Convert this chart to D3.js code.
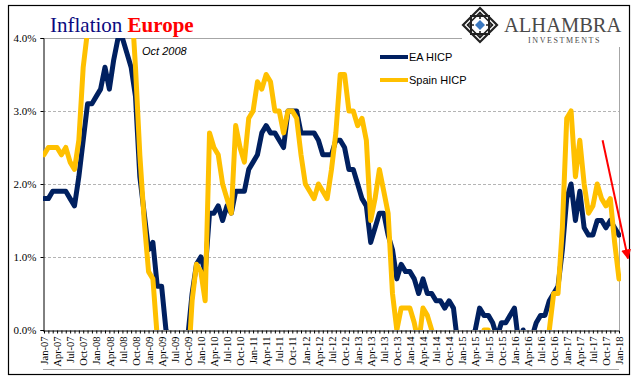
<!DOCTYPE html>
<html><head><meta charset="utf-8">
<script src="https://cdn.jsdelivr.net/npm/d3@7"></script>
<style>body{margin:0;background:#fff}svg{display:block}</style>
</head><body>
<svg id="c" width="641" height="381"></svg>
<script>
const years = ["07","08","09","10","11","12","13","14","15","16","17","18"];
const monthNames = ["Jan","Feb","Mar","Apr","May","Jun","Jul","Aug","Sep","Oct","Nov","Dec"];
const eaHICP = [
 1.8,1.8,1.9,1.9,1.9,1.9,1.8,1.7,2.1,2.6,3.1,3.1,
 3.2,3.3,3.6,3.3,3.7,4.0,4.0,3.8,3.6,3.2,2.1,1.6,
 1.1,1.2,0.6,0.6,0.0,-0.1,-0.6,-0.2,-0.3,-0.1,0.5,0.9,
 1.0,0.8,1.6,1.6,1.7,1.5,1.7,1.6,1.9,1.9,1.9,2.2,
 2.3,2.4,2.7,2.8,2.7,2.7,2.6,2.5,3.0,3.0,3.0,2.7,
 2.7,2.7,2.7,2.6,2.4,2.4,2.4,2.6,2.6,2.5,2.2,2.2,
 2.0,1.8,1.7,1.2,1.4,1.6,1.6,1.3,1.1,0.7,0.9,0.8,
 0.8,0.7,0.5,0.7,0.5,0.5,0.4,0.4,0.3,0.4,0.3,-0.2,
 -0.6,-0.3,-0.1,0.0,0.3,0.2,0.2,0.1,-0.1,0.1,0.1,0.2,
 0.3,-0.2,0.0,-0.2,-0.1,0.1,0.2,0.2,0.4,0.5,0.6,1.1,
 1.8,2.0,1.5,1.9,1.4,1.3,1.3,1.5,1.5,1.4,1.5,1.4,
 1.3];
const spainHICP = [
 2.4,2.5,2.5,2.5,2.4,2.5,2.3,2.2,2.6,3.6,4.1,4.3,
 4.4,4.4,4.6,4.2,4.7,5.1,5.3,4.9,4.6,3.6,2.4,1.5,
 0.8,0.7,-0.1,-0.2,-0.9,-1.0,-1.4,-0.8,-1.0,-0.6,0.4,0.9,
 0.8,0.4,2.7,2.5,2.4,2.0,1.8,1.6,2.8,2.5,2.3,2.9,
 3.0,3.4,3.3,3.5,3.4,3.0,3.0,2.7,3.0,3.0,2.9,2.4,
 2.0,1.9,1.8,2.0,1.9,1.8,2.2,2.7,3.5,3.5,3.0,3.0,
 2.8,2.9,2.6,1.5,1.8,2.2,1.9,1.6,0.5,0.0,0.3,0.3,
 0.3,0.1,-0.2,0.3,0.2,0.0,-0.4,-0.5,-0.3,-0.2,-0.5,-1.1,
 -1.5,-1.2,-0.8,-0.7,-0.3,0.0,0.0,-0.5,-1.1,-0.9,-0.4,-0.1,
 -0.4,-1.0,-1.0,-1.2,-1.1,-0.9,-0.7,-0.3,0.0,0.5,0.5,1.4,
 2.9,3.0,2.1,2.6,2.0,1.6,1.7,2.0,1.8,1.7,1.8,1.2,
 0.7];
const yTicks = [0,1,2,3,4];
const seriesNames = ["EA HICP","Spain HICP"];
const colors = ["#002060","#ffc000"];

const categories = [];
years.forEach(y => monthNames.forEach(m => categories.push(m + "-" + y)));
categories.length = eaHICP.length;
const tickLabels = categories.filter((c,i) => i % 3 === 0);

const svg = d3.select("#c");
const L = 43, R = 619, T = 38, B = 330;
const x = d3.scalePoint().domain(categories).range([L + 1, R]);
const y = d3.scaleLinear().domain([0, 4]).range([B, T]);

// outer border
svg.append("rect").attr("x", 8.5).attr("y", 5.5).attr("width", 621).attr("height", 369)
  .attr("fill", "none").attr("stroke", "#000").attr("stroke-width", 1.2);

// gridlines
svg.append("g").selectAll("line").data(yTicks.filter(d => d > 0 && d < 4)).join("line")
  .attr("x1", L).attr("x2", R).attr("y1", d => Math.round(y(d)) + 0.5).attr("y2", d => Math.round(y(d)) + 0.5)
  .attr("stroke", "#b4b4b4").attr("stroke-dasharray", "3,2");
svg.append("line").attr("x1", L).attr("x2", 462).attr("y1", Math.round(y(4)) + 0.5).attr("y2", Math.round(y(4)) + 0.5)
  .attr("stroke", "#a6a6a6");
svg.append("line").attr("x1", R + 0.5).attr("x2", R + 0.5).attr("y1", 47).attr("y2", B)
  .attr("stroke", "#a6a6a6");
svg.append("line").attr("x1", L).attr("x2", R).attr("y1", 369.5).attr("y2", 369.5)
  .attr("stroke", "#a6a6a6");

// y axis
const yAxis = d3.axisLeft(y).tickValues(yTicks).tickSize(3).tickFormat(d => d3.format(".1f")(d) + "%");
const gy = svg.append("g").attr("transform", `translate(${L + 0.5},0)`).call(yAxis);
gy.select(".domain").attr("stroke", "#000");
gy.selectAll("text").attr("font-family", "Liberation Serif").attr("font-size", 11).attr("fill", "#000")
  .attr("x", -7);

// x axis
const xAxis = d3.axisBottom(x).tickSize(3).tickFormat(d => tickLabels.includes(d) ? d : "");
const gx = svg.append("g").attr("transform", `translate(0,${B + 0.5})`).call(xAxis);
gx.select(".domain").attr("stroke", "#000").attr("d", `M${L},0.5H${R}`);
gx.selectAll(".tick line").attr("stroke", "#000");
gx.selectAll("text").attr("font-family", "Liberation Serif").attr("font-size", 10.5).attr("fill", "#000")
  .attr("transform", "rotate(-90)").attr("text-anchor", "end").attr("x", -6).attr("y", 0).attr("dy", "0.35em");

// clip
svg.append("clipPath").attr("id", "clip").append("rect")
  .attr("x", L).attr("y", T).attr("width", R - L + 2).attr("height", B - T);

const line = d3.line().x((d, i) => x(categories[i])).y(d => y(d));
const plot = svg.append("g").attr("clip-path", "url(#clip)");
[eaHICP, spainHICP].forEach((s, k) => {
  plot.append("path").datum(s).attr("d", line).attr("fill", "none")
    .attr("stroke", colors[k]).attr("stroke-width", 5)
    .attr("stroke-linejoin", "round").attr("stroke-linecap", "round");
});

// legend
seriesNames.forEach((n, k) => {
  const ly = 57 + k * 23;
  svg.append("line").attr("x1", 380).attr("x2", 408).attr("y1", ly).attr("y2", ly)
    .attr("stroke", colors[k]).attr("stroke-width", 4);
  svg.append("text").attr("x", 409).attr("y", ly + 4).text(n)
    .attr("font-family", "Liberation Sans").attr("font-size", 11).attr("fill", "#000");
});

// title
const title = svg.append("text").attr("x", 50).attr("y", 32).attr("font-family", "Liberation Serif").attr("font-size", 21);
title.append("tspan").text("Inflation ").attr("fill", "#0a0a80");
title.append("tspan").text("Europe").attr("fill", "#ff0000").attr("font-weight", "bold");

// annotation
svg.append("text").attr("x", 142).attr("y", 55).text("Oct 2008")
  .attr("font-family", "Liberation Sans").attr("font-style", "italic").attr("font-size", 11).attr("fill", "#000");

// arrow
svg.append("defs").append("marker").attr("id", "ah").attr("viewBox", "0 0 10 10").attr("refX", 9).attr("refY", 5)
  .attr("markerWidth", 5).attr("markerHeight", 5).attr("orient", "auto")
  .append("path").attr("d", "M0,0L10,5L0,10z").attr("fill", "#ff0000");
svg.append("line").attr("x1", x(categories[128]) + 1).attr("y1", y(2.6))
  .attr("x2", x(categories[132]) + 9).attr("y2", y(0.98))
  .attr("stroke", "#ff0000").attr("stroke-width", 2).attr("marker-end", "url(#ah)");

// logo
const lg = svg.append("g").attr("transform", "translate(480,25)");
const r = 17;
lg.append("path").attr("d", `M0,${-r}L${r},0L0,${r}L${-r},0Z`).attr("fill", "none").attr("stroke", "#222").attr("stroke-width", 2.2);
const s = 9;
lg.append("rect").attr("x", -s).attr("y", -s).attr("width", 2 * s).attr("height", 2 * s)
  .attr("fill", "none").attr("stroke", "#222").attr("stroke-width", 2);
lg.append("path").attr("d", `M0,${-12.5}L12.5,0L0,12.5L-12.5,0Z`).attr("fill", "none").attr("stroke", "#222").attr("stroke-width", 1.6);
lg.append("path").attr("d", `M0,-13L0,-6M13,0L6,0M0,13L0,6M-13,0L-6,0`).attr("stroke", "#222").attr("stroke-width", 1.6);
lg.append("path").attr("d", `M0,-5L5,0L0,5L-5,0Z`).attr("fill", "#3a78c0");
svg.append("text").attr("x", 504).attr("y", 32).text("ALHAMBRA")
  .attr("font-family", "Liberation Serif").attr("font-size", 20.5).attr("fill", "#4a4a4a");
svg.append("text").attr("x", 528).attr("y", 42.5).text("INVESTMENTS")
  .attr("font-family", "Liberation Serif").attr("font-size", 8).attr("letter-spacing", 1.6).attr("fill", "#4a4a4a");
</script>
</body></html>
